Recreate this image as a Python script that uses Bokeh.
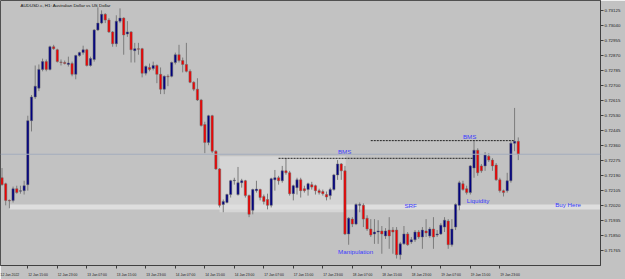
from bokeh.plotting import figure
from bokeh.models import Range1d, FixedTicker, Label, Span, BoxAnnotation, ColumnDataSource, CustomJSTickFormatter, NumeralTickFormatter
from bokeh.core.properties import value
from bokeh.embed import file_html
from bokeh.resources import INLINE

# ---- data (AUDUSD.c, H1) ----
opens = [0.72178,0.72144,0.72050,0.72050,0.72116,0.72102,0.72105,0.72139,0.72501,0.72635,
         0.72685,0.72791,0.72835,0.72791,0.72919,0.72902,0.72833,0.72830,0.72819,0.72824,
         0.72763,0.72869,0.72886,0.72902,0.72813,0.72847,0.73014,0.73053,0.73103,0.73070,
         0.73003,0.72936,0.73064,0.73081,0.72991,0.73003,0.72897,0.72908,0.72908,0.72769,
         0.72802,0.72796,0.72813,0.72763,0.72679,0.72752,0.72752,0.72830,0.72874,0.72841,
         0.72819,0.72780,0.72718,0.72679,0.72618,0.72479,0.72378,0.72529,0.72328,0.72228,
         0.72027,0.72038,0.72083,0.72161,0.72083,0.72150,0.72161,0.72077,0.71994,0.72105,
         0.72111,0.72072,0.72055,0.72022,0.72166,0.72178,0.72161,0.72217,0.72206,0.72088,
         0.72122,0.72166,0.72116,0.72111,0.72139,0.72133,0.72105,0.72100,0.72083,0.72077,
         0.72111,0.72194,0.72256,0.72217,0.71860,0.71944,0.71916,0.72022,0.72022,0.71949,
         0.71888,0.71860,0.71871,0.71877,0.71849,0.71882,0.71882,0.71882,0.71743,0.71804,
         0.71860,0.71815,0.71827,0.71871,0.71843,0.71877,0.71849,0.71888,0.71854,0.71860,
         0.71899,0.71933,0.71799,0.71899,0.72022,0.72144,0.72116,0.72094,0.72233,0.72334,
         0.72245,0.72245,0.72300,0.72278,0.72250,0.72166,0.72105,0.72105,0.72161,0.72373,
         0.72384]
closes = [0.72139,0.72050,0.72047,0.72116,0.72094,0.72105,0.72133,0.72501,0.72635,0.72696,
          0.72791,0.72835,0.72791,0.72919,0.72908,0.72835,0.72830,0.72824,0.72827,0.72763,
          0.72869,0.72886,0.72902,0.72813,0.72852,0.73014,0.73053,0.73103,0.73070,0.73003,
          0.72936,0.73064,0.73081,0.72986,0.73003,0.72902,0.72908,0.72905,0.72769,0.72808,
          0.72791,0.72813,0.72763,0.72679,0.72752,0.72749,0.72830,0.72874,0.72841,0.72819,
          0.72780,0.72718,0.72679,0.72618,0.72473,0.72378,0.72529,0.72328,0.72228,0.72022,
          0.72044,0.72083,0.72161,0.72164,0.72150,0.72161,0.72077,0.71971,0.72111,0.72114,
          0.72066,0.72044,0.72022,0.72172,0.72178,0.72161,0.72217,0.72206,0.72088,0.72133,
          0.72166,0.72105,0.72105,0.72144,0.72125,0.72105,0.72094,0.72088,0.72069,0.72111,
          0.72194,0.72256,0.72217,0.71860,0.71949,0.71916,0.72027,0.72027,0.71944,0.71888,
          0.71854,0.71871,0.71877,0.71860,0.71877,0.71849,0.71871,0.71743,0.71804,0.71860,
          0.71799,0.71827,0.71871,0.71843,0.71882,0.71866,0.71888,0.71843,0.71860,0.71910,
          0.71938,0.71799,0.71888,0.72027,0.72150,0.72111,0.72094,0.72245,0.72334,0.72206,
          0.72217,0.72306,0.72278,0.72245,0.72166,0.72105,0.72094,0.72161,0.72373,0.72384,
          0.72311]
highs = [0.72233,0.72150,0.72055,0.72128,0.72133,0.72133,0.72161,0.72529,0.72646,0.72813,
         0.72819,0.72852,0.72847,0.72925,0.72930,0.72908,0.72847,0.72841,0.72863,0.72835,
         0.72874,0.72891,0.72925,0.72908,0.72863,0.73019,0.73142,0.73125,0.73109,0.73081,
         0.73008,0.73097,0.73136,0.73086,0.73064,0.73008,0.72941,0.72941,0.72913,0.72813,
         0.72824,0.72835,0.72819,0.72802,0.72757,0.72763,0.72835,0.72886,0.72930,0.72858,
         0.72941,0.72791,0.72724,0.72741,0.72624,0.72495,0.72534,0.72534,0.72334,0.72233,
         0.72055,0.72088,0.72166,0.72178,0.72239,0.72172,0.72166,0.72083,0.72116,0.72161,
         0.72116,0.72083,0.72088,0.72178,0.72222,0.72189,0.72245,0.72289,0.72217,0.72139,
         0.72178,0.72178,0.72133,0.72150,0.72155,0.72139,0.72116,0.72111,0.72100,0.72122,
         0.72200,0.72278,0.72261,0.72245,0.71955,0.71955,0.72033,0.72038,0.72033,0.71966,
         0.71944,0.71944,0.71938,0.71905,0.71893,0.71955,0.71899,0.71899,0.71815,0.71905,
         0.71871,0.71843,0.71882,0.71882,0.71899,0.71944,0.71899,0.71955,0.71882,0.71921,
         0.71955,0.71944,0.71944,0.72033,0.72161,0.72161,0.72133,0.72250,0.72390,0.72345,
         0.72256,0.72323,0.72317,0.72289,0.72261,0.72178,0.72111,0.72206,0.72384,0.72573,
         0.72406]
lows = [0.72133,0.72022,0.72005,0.72038,0.72088,0.72088,0.72083,0.72105,0.72440,0.72624,
        0.72668,0.72780,0.72780,0.72785,0.72902,0.72830,0.72813,0.72819,0.72807,0.72752,
        0.72735,0.72863,0.72874,0.72807,0.72807,0.72835,0.73008,0.73047,0.73053,0.72997,
        0.72919,0.72919,0.73053,0.72874,0.72975,0.72830,0.72830,0.72874,0.72746,0.72757,
        0.72780,0.72785,0.72713,0.72651,0.72651,0.72696,0.72746,0.72819,0.72830,0.72774,
        0.72774,0.72713,0.72668,0.72612,0.72468,0.72317,0.72362,0.72317,0.72222,0.72010,
        0.71983,0.72033,0.72066,0.72139,0.72077,0.72122,0.72066,0.71955,0.71971,0.72094,
        0.72050,0.72027,0.71999,0.72010,0.72105,0.72139,0.72150,0.72195,0.72077,0.72050,
        0.72083,0.72066,0.72094,0.72077,0.72111,0.72083,0.72083,0.72077,0.72050,0.72055,
        0.72105,0.72166,0.72166,0.71854,0.71799,0.71899,0.71910,0.71983,0.71899,0.71877,
        0.71843,0.71804,0.71804,0.71748,0.71832,0.71776,0.71748,0.71721,0.71715,0.71799,
        0.71793,0.71804,0.71815,0.71832,0.71776,0.71843,0.71838,0.71776,0.71843,0.71854,
        0.71871,0.71776,0.71788,0.71882,0.71994,0.72105,0.72083,0.72083,0.72178,0.72189,
        0.72206,0.72217,0.72267,0.72217,0.72161,0.72094,0.72072,0.72094,0.72150,0.72328,
        0.72278]

x_tick_bars = [-1, 7, 15, 23, 31, 39, 47, 55, 63, 71, 79, 87, 95, 103, 111, 119, 127, 135]
x_tick_labels = ["12 Jan 2022", "12 Jan 15:00", "12 Jan 23:00", "13 Jan 07:00", "13 Jan 15:00",
                 "13 Jan 23:00", "14 Jan 07:00", "14 Jan 15:00", "14 Jan 23:00", "17 Jan 07:00",
                 "17 Jan 15:00", "17 Jan 23:00", "18 Jan 07:00", "18 Jan 15:00", "18 Jan 23:00",
                 "19 Jan 07:00", "19 Jan 15:00", "19 Jan 23:00"]
y_ticks = [0.73125, 0.73040, 0.72955, 0.72870, 0.72785, 0.72700, 0.72615, 0.72530, 0.72445,
           0.72360, 0.72275, 0.72190, 0.72105, 0.72020, 0.71935, 0.71850, 0.71765]

# drawn objects
range_box = dict(left=59.0, right=93.2, top=0.72299, bottom=0.71983)
srf_band = dict(left=2.0, top=0.72027, bottom=0.71999)
bms_x0 = [75.0, 100.0]
bms_x1 = [128.0, 139.0]
bms_y = [0.72288, 0.72388]
ann_text = ["BMS", "BMS", "Manipulation", "SRF", "Liquidity", "Buy Here"]
ann_x = [92.9, 126.8, 95.9, 110.8, 129.1, 153.5]
ann_y = [0.72328, 0.72412, 0.71760, 0.72020, 0.72048, 0.72029]
title_text = "AUDUSD.c, H1:  Australian Dollar vs US Dollar"

BG = "#c2c2c2"
n = len(opens)
idx = list(range(n))
colors = ["#000080" if c >= o else "#f00000" for o, c in zip(opens, closes)]
src = ColumnDataSource(dict(x=idx, o=opens, c=closes, h=highs, l=lows, col=colors))

p = figure(width=625, height=279, output_backend="svg", toolbar_location=None,
           x_range=Range1d(-0.41, 162.3), y_range=Range1d(0.716816, 0.731807),
           y_axis_location="right", x_axis_location="below",
           min_border_left=0, min_border_right=25, min_border_top=0, min_border_bottom=10,
           background_fill_color=BG, border_fill_color=BG,
           outline_line_color="#505050", outline_line_width=1)
p.xgrid.visible = False
p.ygrid.visible = False

p.add_layout(BoxAnnotation(left=range_box["left"], right=range_box["right"],
                           top=range_box["top"], bottom=range_box["bottom"],
                           fill_color="#d5d5d5", fill_alpha=1, line_color=None, level="underlay"))
p.add_layout(BoxAnnotation(left=srf_band["left"], top=srf_band["top"], bottom=srf_band["bottom"],
                           fill_color="#dedede", fill_alpha=1, line_color=None, level="underlay"))

p.add_layout(Span(location=closes[-1], dimension="width", line_color="#a3adbd", line_width=1))

p.segment(x0="x", x1="x", y0="l", y1="h", source=src, line_color="#7c7c7c", line_width=1)
p.vbar(x="x", width=0.62, top="o", bottom="c", source=src, fill_color="col",
       line_color="#6a6a6a", line_width=0.5)

p.segment(x0=bms_x0, x1=bms_x1, y0=bms_y, y1=bms_y, line_color="#202020",
          line_width=1, line_dash="2 1")

p.text(x=ann_x, y=ann_y, text=ann_text, text_font=value("Liberation Sans"),
       text_font_size="6.2px", text_color="#3a3aff", text_align="center", text_baseline="middle")

p.add_layout(Label(x=5.0, y=0.73153, text=title_text, text_font="Liberation Sans",
                   text_font_size="4.4px", text_color="#101010", text_baseline="middle"))

p.add_layout(Label(x=163.1, y=closes[-1], text="%.5f" % closes[-1], text_font="Liberation Sans",
                   text_font_size="4.3px", text_color="#f0f4fa", text_baseline="middle",
                   background_fill_color="#8fa2c0", background_fill_alpha=1))

# right price axis
ya = p.yaxis[0]
ya.ticker = FixedTicker(ticks=y_ticks)
ya.formatter = NumeralTickFormatter(format="0.00000")
ya.major_label_text_font = "Liberation Sans"
ya.major_label_text_font_size = "4.4px"
ya.major_label_text_color = "#202020"
ya.axis_line_color = "#404040"
ya.major_tick_line_color = "#404040"
ya.major_tick_out = 3
ya.major_tick_in = 0
ya.minor_tick_line_color = None
ya.major_label_standoff = 1

# bottom time axis (labels start just right of each tick, as in the terminal)
shift = 2.77
xa = p.xaxis[0]
lab_pos = [b + shift for b in x_tick_bars]
xa.ticker = FixedTicker(ticks=lab_pos, minor_ticks=x_tick_bars)
xa.formatter = CustomJSTickFormatter(args=dict(pos=lab_pos, labels=x_tick_labels), code="""
    for (let i = 0; i < pos.length; i++) { if (Math.abs(pos[i] - tick) < 1e-6) return labels[i]; }
    return "";
""")
xa.major_label_text_font = "Liberation Sans"
xa.major_label_text_font_size = "3.4px"
xa.major_label_text_color = "#202020"
xa.axis_line_color = "#404040"
xa.major_tick_line_color = None
xa.minor_tick_line_color = "#404040"
xa.minor_tick_out = 3
xa.minor_tick_in = 0
xa.major_label_standoff = 1

open("out.html", "w").write(file_html(p, INLINE))
